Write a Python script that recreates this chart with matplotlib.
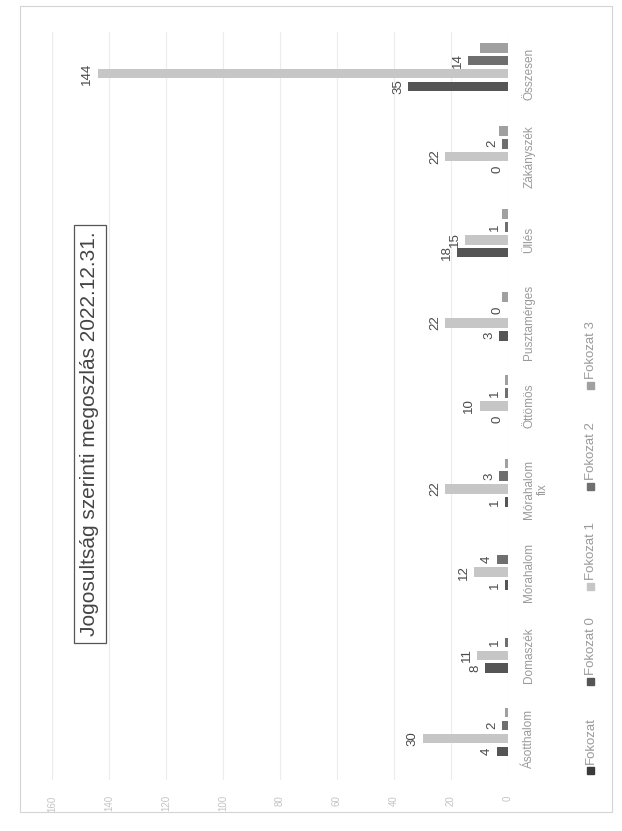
import numpy as np
import matplotlib
matplotlib.use("Agg")
import matplotlib.pyplot as plt
from matplotlib.patches import Rectangle

W, H = 622, 831

CATEGORIES = ["Ásotthalom", "Domaszék", "Mórahalom", "Mórahalom\nfix", "Öttömös",
              "Pusztamérges", "Üllés", "Zákányszék", "Összesen"]
SERIES = ["Fokozat", "Fokozat 0", "Fokozat 1", "Fokozat 2", "Fokozat 3"]
FOKOZAT = [None, None, None, None, None, None, None, None, None]
FOKOZAT_0 = [4, 8, 1, 1, 0, 3, 18, 0, 35]
FOKOZAT_1 = [30, 11, 12, 22, 10, 22, 15, 22, 144]
FOKOZAT_2 = [2, 1, 4, 3, 1, 0, 1, 2, 14]
FOKOZAT_3 = [1, 0, 0, 1, 1, 2, 2, 3, 10]
VALUE_TICKS = [0, 20, 40, 60, 80, 100, 120, 140, 160]
TITLE = "Jogosultság szerinti megoszlás 2022.12.31."

COLORS = ["#3a3a3a", "#555555", "#c6c6c6", "#6f6f6f", "#a0a0a0"]
LABELLED = [False, True, True, True, False]

plt.rcParams["font.family"] = ["Liberation Sans", "DejaVu Sans"]


def fx(px):
    return px / W


def fy(py):
    return 1 - py / H


fig = plt.figure(figsize=(W / 100, H / 100), dpi=100)
fig.patch.set_facecolor("white")

# chart is drawn turned a quarter turn: values grow to the left
ax = fig.add_axes([fx(52), fy(780), fx(508) - fx(52), fy(32) - fy(780)])
ax.set_xlim(160, 0)
ax.set_ylim(-0.5, len(CATEGORIES) - 0.5)

slot = 0.155
all_series = [FOKOZAT, FOKOZAT_0, FOKOZAT_1, FOKOZAT_2, FOKOZAT_3]
base = np.arange(len(CATEGORIES))
for i, vals in enumerate(all_series):
    v = np.array(vals, dtype=float)
    y = base + (i - 2) * slot
    ax.barh(y, np.nan_to_num(v), height=0.115, color=COLORS[i], zorder=2)
    if LABELLED[i]:
        for yy, val in zip(y, vals):
            ax.annotate(str(val), (val, yy), xytext=(-3, 0), textcoords="offset points",
                        rotation=90, ha="right", va="center", fontsize=9.5,
                        color="#4a4a4a")

ax.set_xticks(VALUE_TICKS)
ax.set_xticklabels([str(t) for t in VALUE_TICKS], rotation=90, fontsize=7,
                   color="#c4c4c4")
ax.tick_params(axis="x", length=0, pad=11)
ax.grid(axis="x", color="#ececec", lw=0.8, zorder=0)

ax.yaxis.tick_right()
ax.set_yticks(base)
ax.set_yticklabels(CATEGORIES, rotation=90, va="center", ha="left",
                   multialignment="center", fontsize=8.5, color="#9a9a9a")
ax.tick_params(axis="y", length=0, pad=11)
for s in ax.spines.values():
    s.set_visible(False)

fig.text(fx(90), fy(434), TITLE, rotation=90, ha="center", va="center",
         fontsize=15, color="#444444",
         bbox=dict(boxstyle="square,pad=0.3", fc="white", ec="#555555", lw=0.9))

# legend, turned like the chart
leg_y = [770, 681, 586, 486, 385]
for name, col, py in zip(SERIES, COLORS, leg_y):
    fig.add_artist(Rectangle((fx(587), fy(py + 3.5)), fx(7), 7 / H,
                             transform=fig.transFigure, color=col))
    fig.text(fx(590.5), fy(py - 6), name, rotation=90, ha="center", va="bottom",
             fontsize=9.5, color="#9a9a9a")

fig.add_artist(Rectangle((fx(20), fy(812)), fx(592), 806 / H,
                         transform=fig.transFigure, fill=False, ec="#d4d4d4", lw=0.8))

fig.savefig("out.png", dpi=100)
